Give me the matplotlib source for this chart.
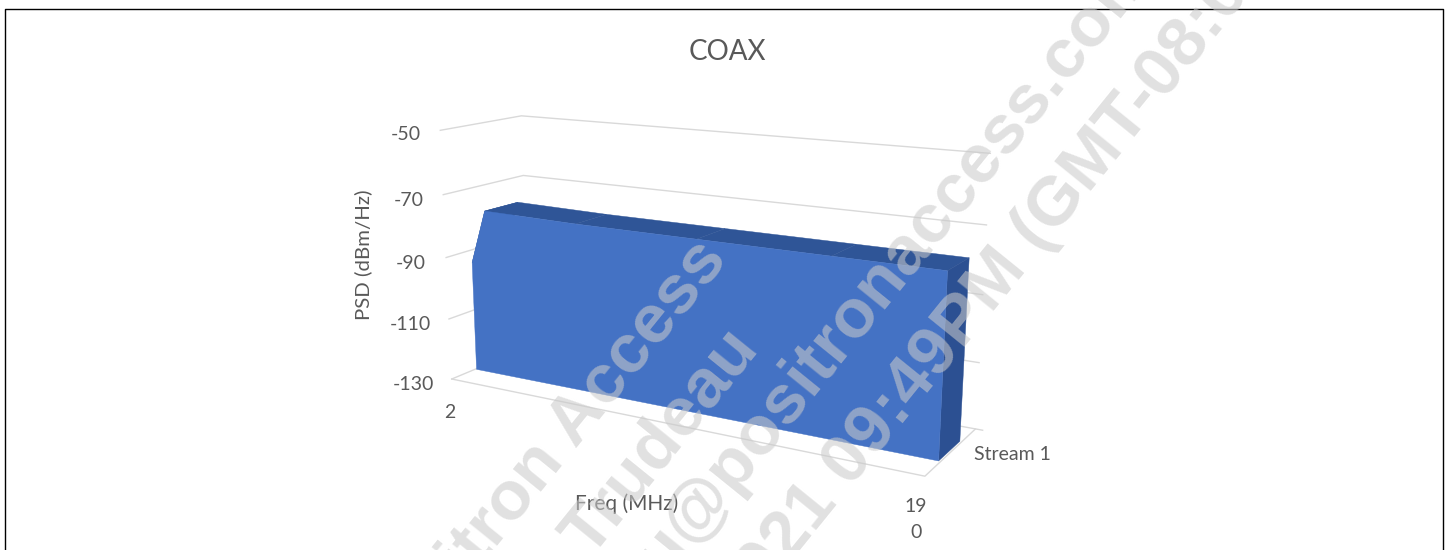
import numpy as np
import matplotlib
matplotlib.use('Agg')
import matplotlib.pyplot as plt
from matplotlib.lines import Line2D
from mpl_toolkits.mplot3d.art3d import Poly3DCollection

plt.rcParams['font.family'] = ['Lato', 'DejaVu Sans']

W, H = 1449., 550.
TEXT = '#595959'
GRID = '#D9D9D9'

# PSD mask for stream 1
freq_mhz = [2, 9, 50, 100, 150, 189]
psd_dbm = [-94, -76.5, -77, -77, -77, -77]
psd_ticks = [-130, -110, -90, -70, -50]
psd_tick_pos = [(434, 384), (431, 324), (426, 263), (424, 200), (421, 135)]

FREQ_MIN, FREQ_MAX = 2, 190
DEPTH_FRONT, DEPTH_BACK = 0.30, 0.72


def px_text(x, y, s, **kw):
    # text placed in figure pixels, y measured from the top
    return fig.text(x / W, 1 - y / H, s, **kw)


fig = plt.figure(figsize=(14.49, 5.5), dpi=100)
fig.patch.set_facecolor('white')

ax = fig.add_axes([(690.31 - 350) / W, (H - 284.55 - 350) / H, 700 / W, 700 / H],
                  projection='3d', computed_zorder=False)
ax.set_xlim(FREQ_MIN, FREQ_MAX)
ax.set_ylim(0, 1)
ax.set_zlim(-130, -50)
ax.view_init(14.003, -60.02, -0.057)
ax.set_proj_type('persp', focal_length=0.354)
ax.set_box_aspect((2.0007, 0.5076, 1), zoom=0.8566)
ax.set_axis_off()
ax.patch.set_alpha(0)

# walls and floor
for t in psd_ticks:
    ax.plot([FREQ_MIN, FREQ_MIN, FREQ_MAX], [0, 1, 1], [t, t, t], color=GRID, lw=1.0, zorder=1)
ax.plot([FREQ_MIN, FREQ_MAX, FREQ_MAX, 192.5], [0, 0, 1, 1], [-130, -130, -130, -130],
        color=GRID, lw=1.0, zorder=1)

# area body: top strip, right side, then the front face
f = np.array(freq_mhz, float)
p = np.array(psd_dbm, float)
for i in range(len(f) - 1):
    top = [(f[i], DEPTH_FRONT, p[i]), (f[i + 1], DEPTH_FRONT, p[i + 1]),
           (f[i + 1], DEPTH_BACK, p[i + 1]), (f[i], DEPTH_BACK, p[i])]
    ax.add_collection3d(Poly3DCollection([top], facecolor='#2F5597', edgecolor='#2F5597', lw=0.3, zorder=2))
side = [(f[-1], DEPTH_FRONT, -130), (f[-1], DEPTH_BACK, -130),
        (f[-1], DEPTH_BACK, p[-1]), (f[-1], DEPTH_FRONT, p[-1])]
ax.add_collection3d(Poly3DCollection([side], facecolor='#2C5092', edgecolor='#2C5092', lw=0.3, zorder=3))
front = [(f[0], DEPTH_FRONT, -130)] + [(a, DEPTH_FRONT, b) for a, b in zip(f, p)] + [(f[-1], DEPTH_FRONT, -130)]
ax.add_collection3d(Poly3DCollection([front], facecolor='#4472C4', edgecolor='#4472C4', lw=0.3, zorder=4))

# labels
px_text(727, 52, 'COAX', fontsize=20, color=TEXT, ha='center', va='center')
for t, (x, y) in zip(psd_ticks, psd_tick_pos):
    px_text(x, y, str(t), fontsize=14, color=TEXT, ha='right', va='center')
px_text(450, 413, '2', fontsize=14, color=TEXT, ha='center', va='center')
px_text(916, 507, '19', fontsize=14, color=TEXT, ha='center', va='center')
px_text(916, 533, '0', fontsize=14, color=TEXT, ha='center', va='center')
px_text(974, 455, 'Stream 1', fontsize=14, color=TEXT, ha='left', va='center')
px_text(627, 504, 'Freq (MHz)', fontsize=15, color=TEXT, ha='center', va='center')
px_text(363, 255, 'PSD (dBm/Hz)', fontsize=14.7, color=TEXT, ha='center', va='center', rotation=90)

# frame, open at the bottom
fig.add_artist(Line2D([4.5 / W, 4.5 / W, 1443 / W, 1443 / W], [0, 1 - 9 / H, 1 - 9 / H, 0],
                      color='black', lw=1.0, zorder=5))

# diagonal stamp
stamp = dict(fontsize=50, fontweight='bold', family=['Liberation Sans', 'DejaVu Sans'], color='#CACACA',
             alpha=0.57, rotation=51, rotation_mode='anchor', va='baseline', zorder=10)
px_text(729, 260, 'Positron Access', ha='right', **stamp)
px_text(760, 349, 'Trudeau', ha='right', **stamp)
px_text(1156, -29, 'ctrudeau@positronaccess.com', ha='right', **stamp)
px_text(741, 623, '2021 09:49PM (GMT-08:00)', ha='left', **stamp)

fig.savefig('out.png', dpi=100)
